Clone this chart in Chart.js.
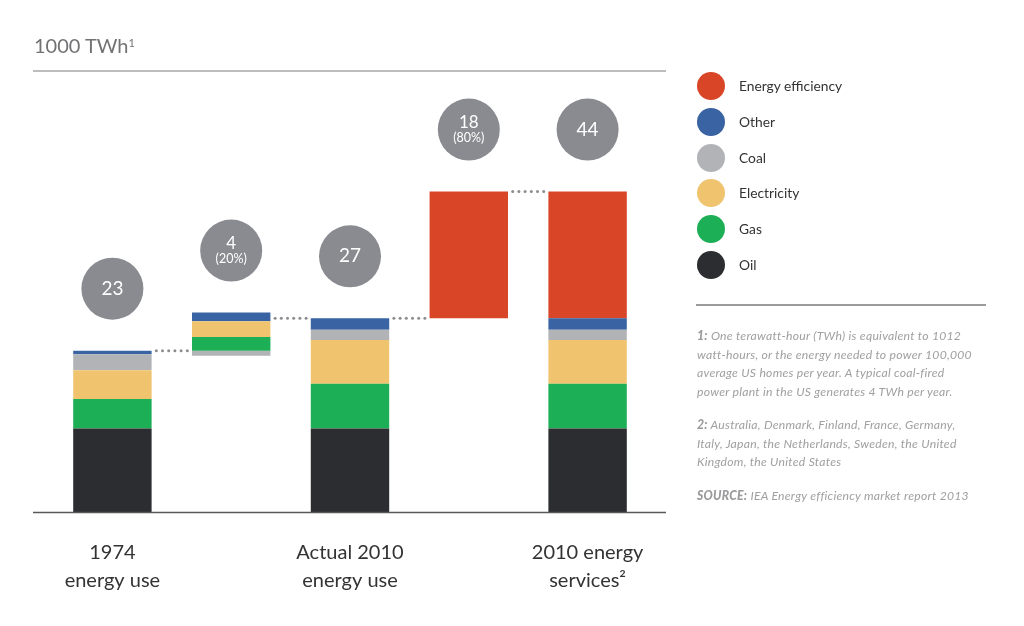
<!DOCTYPE html>
<html><head><meta charset="utf-8">
<script src="https://cdn.jsdelivr.net/npm/chart.js@4/dist/chart.umd.min.js"></script>
<style>
html,body{margin:0;padding:0;background:#fff;}
#wrap{position:relative;width:1024px;height:626px;font-family:Lato,"Open Sans",sans-serif;overflow:hidden;}
#c{position:absolute;left:0;top:0;}
#title{position:absolute;left:34px;top:33px;font-size:20px;color:#727274;line-height:24px;}
#title sup{font-size:11px;vertical-align:top;position:relative;top:-2px;}
#topline{position:absolute;left:33px;top:70px;width:633px;height:2px;background:#bdbdbf;}
#legend{position:absolute;left:697px;top:0;}
.li{position:absolute;left:0;width:260px;height:28px;}
.li .dot{position:absolute;left:0;top:0;width:28px;height:28px;border-radius:50%;}
.li .lab{position:absolute;left:42px;top:5px;font-size:13.8px;color:#333;white-space:nowrap;line-height:18px;}
#sep{position:absolute;left:696px;top:304px;width:290px;height:2px;background:#9c9c9e;}
#notes{position:absolute;left:697px;top:327px;width:320px;font-size:12.2px;letter-spacing:0.25px;font-style:italic;color:#a0a0a2;line-height:18.5px;white-space:nowrap;}
#notes p{margin:0 0 15px 0;}
#notes b{font-weight:900;color:#9a9a9c;}
</style></head>
<body>
<div id="wrap">
<canvas id="c" width="1024" height="626" style="width:1024px;height:626px"></canvas>
<div id="title">1000 TWh<sup>1</sup></div>
<div id="topline"></div>
<div id="legend"></div>
<div id="sep"></div>
<div id="notes">
<p><b>1:</b> One terawatt-hour (TWh) is equivalent to 1012<br>watt-hours, or the energy needed to power 100,000<br>average US homes per year. A typical coal-fired<br>power plant in the US generates 4 TWh per year.</p>
<p><b>2:</b> Australia, Denmark, Finland, France, Germany,<br>Italy, Japan, the Netherlands, Sweden, the United<br>Kingdom, the United States</p>
<p><b>SOURCE:</b> IEA Energy efficiency market report 2013</p>
</div>
</div>
<script>
// ---- data (1000 TWh) ----
const categories = [["1974", "energy use"], "", ["Actual 2010", "energy use"], "", ["2010 energy", "services²"]];
const fuels = ["Oil", "Gas", "Electricity", "Coal", "Other"];
const use1974 = [11.6, 4.1, 4.0, 2.2, 0.5];
const change1974to2010 = [0, 1.9, 2.2, -0.7, 1.2];
const use2010 = [11.6, 6.2, 6.1, 1.4, 1.6];
const efficiencySavings = 17.6;
const bubbleMain = ["23", "4", "27", "18", "44"];
const bubbleSub = ["", "(20%)", "", "(80%)", ""];
const legendOrder = ["Energy efficiency", "Other", "Coal", "Electricity", "Gas", "Oil"];
const colors = {
  "Energy efficiency": "#d84627", "Other": "#3963a2", "Coal": "#b1b3b7",
  "Electricity": "#f0c46f", "Gas": "#1caf55", "Oil": "#2c2d31"
};

// ---- build floating ranges ----
const sum = a => a.reduce((s, v) => s + v, 0);
const total1974 = sum(use1974), total2010 = sum(use2010);
const ranges = {};
fuels.forEach(f => ranges[f] = [null, null, null, null, null]);
ranges["Energy efficiency"] = [null, null, null, null, null];
let c = 0;
fuels.forEach((f, i) => { ranges[f][0] = [c, c + use1974[i]]; c += use1974[i]; });
let pos = total1974, neg = total1974;
fuels.forEach((f, i) => {
  const d = change1974to2010[i];
  if (d > 0) { ranges[f][1] = [pos, pos + d]; pos += d; }
  else if (d < 0) { ranges[f][1] = [neg + d, neg]; neg += d; }
});
c = 0;
fuels.forEach((f, i) => { ranges[f][2] = [c, c + use2010[i]]; ranges[f][4] = [c, c + use2010[i]]; c += use2010[i]; });
ranges["Energy efficiency"][3] = [total2010, total2010 + efficiencySavings];
ranges["Energy efficiency"][4] = [total2010, total2010 + efficiencySavings];
const connectorLevels = [total1974, total2010, total2010, total2010 + efficiencySavings];

const datasets = legendOrder.slice().reverse().map(name => ({
  label: name, data: ranges[name], backgroundColor: colors[name],
  borderWidth: 0, borderSkipped: false, grouped: false,
  barPercentage: 0.66, categoryPercentage: 1
}));

// ---- legend (HTML) ----
const lg = document.getElementById('legend');
legendOrder.forEach((name, i) => {
  const d = document.createElement('div');
  d.className = 'li';
  d.style.top = (72 + i * 35.8) + 'px';
  d.innerHTML = '<div class="dot" style="background:' + colors[name] + '"></div><div class="lab">' + name + '</div>';
  lg.appendChild(d);
});

// ---- plugin: bubbles, connectors, axis line ----
const extras = {
  id: 'extras',
  afterDatasetsDraw(chart) {
    const ctx = chart.ctx, xs = chart.scales.x, ys = chart.scales.y;
    const meta = chart.getDatasetMeta(0);
    const halfW = meta.data[0] ? meta.data[0].width / 2 : 39;
    ctx.save();
    // connectors
    ctx.fillStyle = '#8c8d91';
    connectorLevels.forEach((lv, i) => {
      const y = ys.getPixelForValue(lv);
      const x0 = xs.getPixelForValue(i) + halfW, x1 = xs.getPixelForValue(i + 1) - halfW;
      const n = 6, sp = 6.2, start = (x0 + x1) / 2 - sp * (n - 1) / 2;
      for (let k = 0; k < n; k++) {
        ctx.beginPath(); ctx.arc(start + k * sp, y, 1.5, 0, Math.PI * 2); ctx.fill();
      }
    });
    // bubbles
    categories.forEach((cat, i) => {
      let top = 0;
      chart.data.datasets.forEach(ds => { const r = ds.data[i]; if (r) top = Math.max(top, r[1]); });
      const cx = xs.getPixelForValue(i), cy = ys.getPixelForValue(top) - 62;
      ctx.fillStyle = '#898b90';
      ctx.beginPath(); ctx.arc(cx, cy, 31, 0, Math.PI * 2); ctx.fill();
      ctx.fillStyle = '#ffffff';
      ctx.textAlign = 'center'; ctx.textBaseline = 'middle';
      if (bubbleSub[i]) {
        ctx.font = '17px Lato'; ctx.fillText(bubbleMain[i], cx, cy - 7);
        ctx.font = '12.5px Lato'; ctx.fillText(bubbleSub[i], cx, cy + 8.5);
      } else {
        ctx.font = '19px Lato'; ctx.fillText(bubbleMain[i], cx, cy);
      }
    });
    // baseline axis line
    const yb = ys.getPixelForValue(0);
    ctx.strokeStyle = '#58595c'; ctx.lineWidth = 1.5;
    ctx.beginPath(); ctx.moveTo(33, yb + 0.5); ctx.lineTo(666, yb + 0.5); ctx.stroke();
    ctx.restore();
  }
};

new Chart(document.getElementById('c'), {
  type: 'bar',
  data: { labels: categories, datasets },
  options: {
    responsive: false, animation: false,
    layout: { padding: { left: 53, right: 377, top: 80, bottom: 0 } },
    plugins: { legend: { display: false }, tooltip: { enabled: false } },
    scales: {
      x: {
        grid: { display: false }, border: { display: false },
        ticks: { autoSkip: false, maxRotation: 0, padding: 19, color: '#333', font: { family: 'Lato', size: 20, lineHeight: 1.4 } },
        afterFit: s => { s.height = 114; }
      },
      y: { display: false, min: 0, max: 60 }
    }
  },
  plugins: [extras]
});
</script>
</body></html>
